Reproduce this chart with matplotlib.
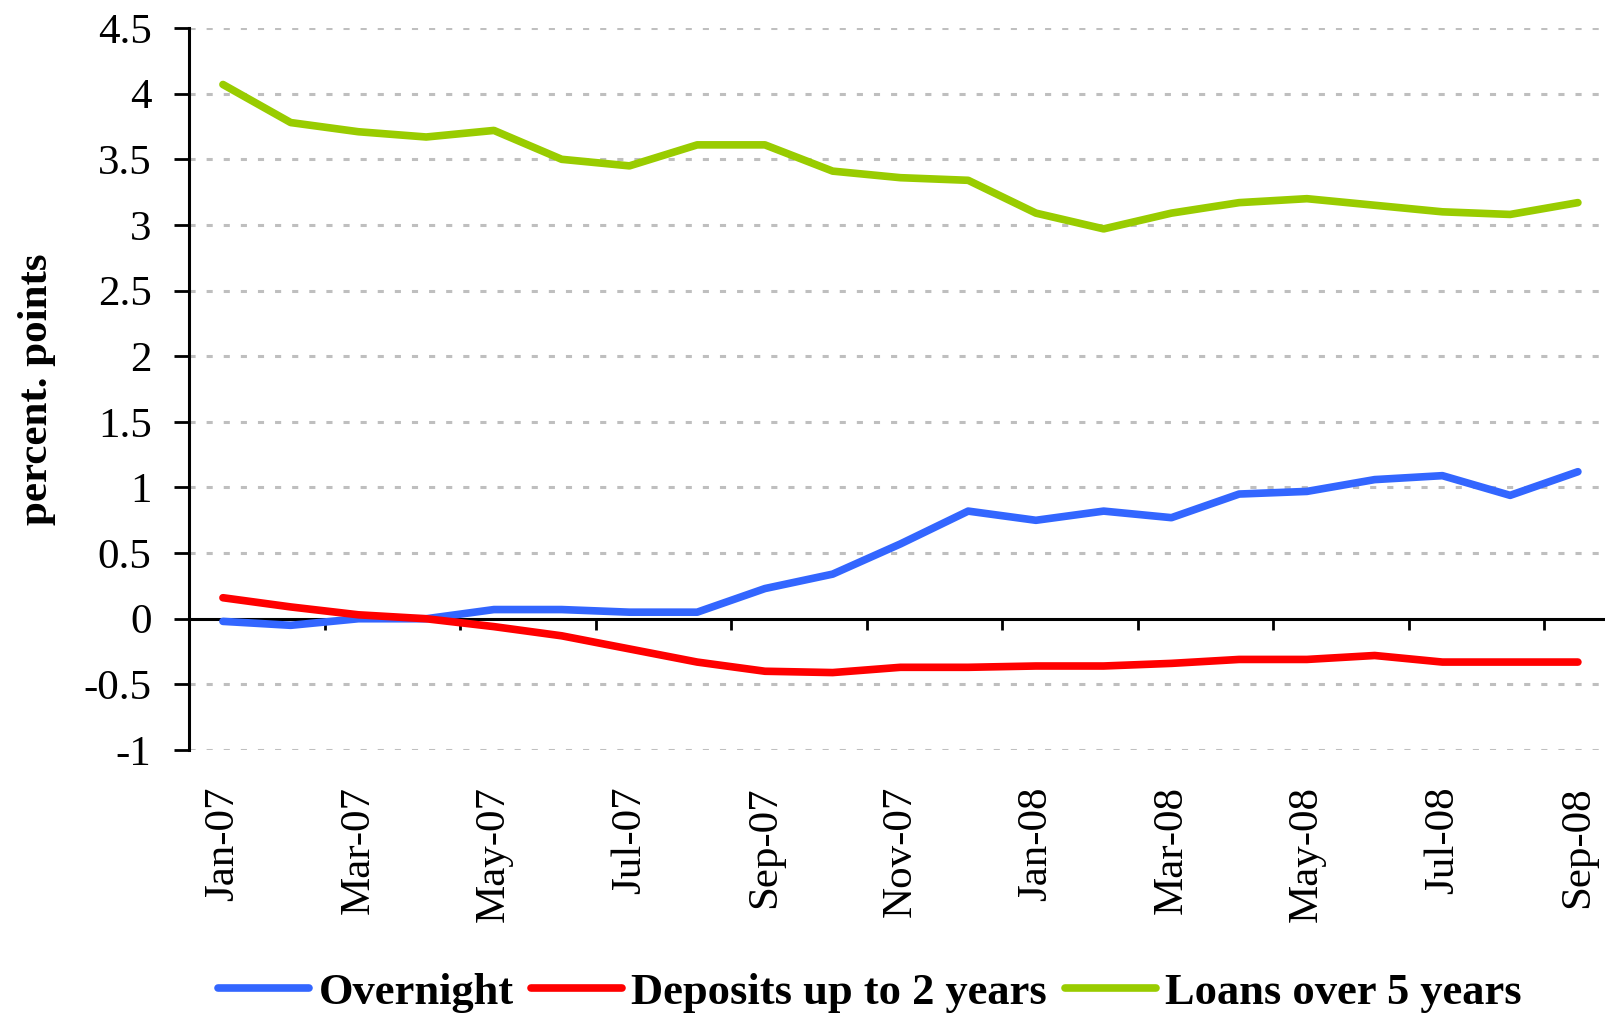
import numpy as np
import matplotlib.pyplot as plt

months = ["Jan-07", "Feb-07", "Mar-07", "Apr-07", "May-07", "Jun-07", "Jul-07",
          "Aug-07", "Sep-07", "Oct-07", "Nov-07", "Dec-07", "Jan-08", "Feb-08",
          "Mar-08", "Apr-08", "May-08", "Jun-08", "Jul-08", "Aug-08", "Sep-08"]

overnight = [-0.02, -0.05, 0.0, 0.0, 0.07, 0.07, 0.05, 0.05, 0.23, 0.34, 0.57,
             0.82, 0.75, 0.82, 0.77, 0.95, 0.97, 1.06, 1.09, 0.94, 1.12]
deposits = [0.16, 0.09, 0.03, 0.0, -0.06, -0.13, -0.23, -0.33, -0.40, -0.41, -0.37,
            -0.37, -0.36, -0.36, -0.34, -0.31, -0.31, -0.28, -0.33, -0.33, -0.33]
loans = [4.07, 3.78, 3.71, 3.67, 3.72, 3.50, 3.45, 3.61, 3.61, 3.41, 3.36,
         3.34, 3.09, 2.97, 3.09, 3.17, 3.20, 3.15, 3.10, 3.08, 3.17]

series_names = ["Overnight", "Deposits up to 2 years", "Loans over 5 years"]
colors = ["#3366FF", "#FF0000", "#99CC00"]

plt.rcParams['font.family'] = ['Liberation Serif', 'DejaVu Serif']
fs = 31

fig = plt.figure(figsize=(16.05, 10.16), dpi=100)
ax = fig.add_axes([0.1178, 0.2618, 0.8822, 0.7106])

x = np.arange(len(months))
for vals, name, c in zip([overnight, deposits, loans], series_names, colors):
    ax.plot(x, vals, color=c, lw=5.5, label=name, solid_capstyle='round',
            solid_joinstyle='round', zorder=3)

ax.set_ylim(-1, 4.5)
ax.set_xlim(-0.5, 20.4)
yt = np.arange(-1, 4.51, 0.5)
ax.set_yticks(yt)
ax.set_yticklabels([f"{v:g}" for v in yt], fontsize=fs)
# dotted grey gridlines (zero gets the black axis line instead)
for v in yt:
    if v != 0:
        ax.axhline(v, color="#BFBFBF", lw=2.2, dashes=(2, 3.6), zorder=1)

ax.axhline(0, color="black", lw=2.2, zorder=2)

# labels every 2 months, no ticks at bottom
ax.set_xticks(x[::2])
ax.set_xticklabels(months[::2], rotation=90, fontsize=fs)
ax.tick_params(axis='x', length=0, pad=26)
ax.tick_params(axis='y', length=11, width=2, pad=16)

for s in ["top", "right", "bottom"]:
    ax.spines[s].set_visible(False)
ax.spines["left"].set_linewidth(2.2)

# small ticks on the zero line between categories
sec = ax.secondary_xaxis(0, transform=ax.transData)
sec.set_xticks(np.arange(1.5, 20.5, 2))
sec.set_xticklabels([])
sec.tick_params(length=8, width=2, direction='out')
sec.spines["bottom"].set_visible(False)

ax.set_ylabel("percent. points", fontsize=fs, fontweight='bold', labelpad=20)

leg = fig.legend(loc='center', bbox_to_anchor=(0.542, 0.023), ncol=3, frameon=False,
                 prop={'size': 32, 'weight': 'bold'}, handlelength=2.05,
                 handletextpad=0.2, columnspacing=0.4)

fig.savefig("out.png", dpi=100)
